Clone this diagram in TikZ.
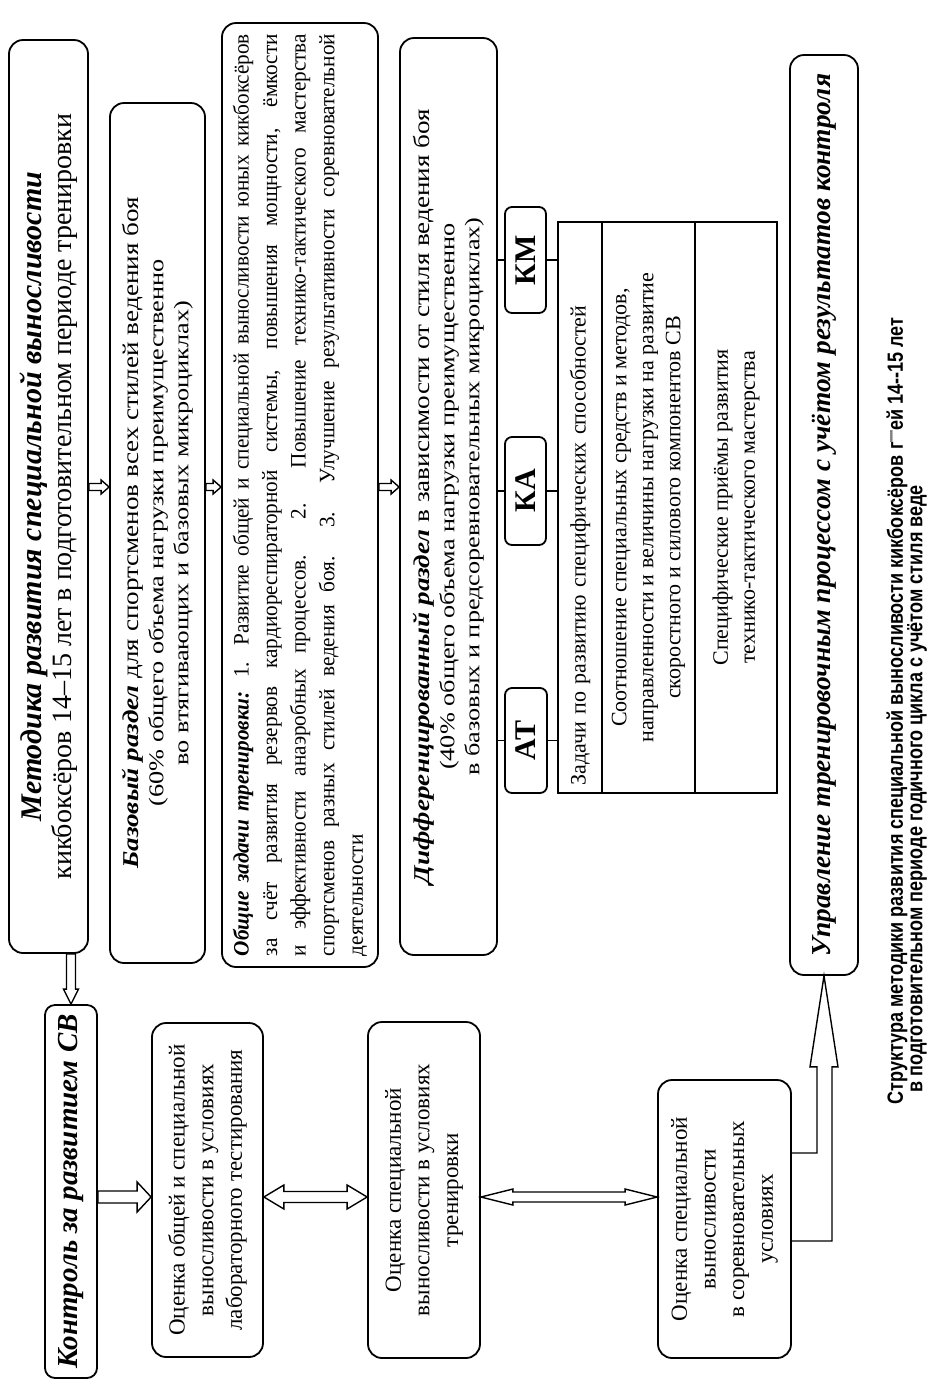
\documentclass[tikz,border=0pt]{standalone}
\usepackage{fontspec}
\setmainfont{Liberation Serif}
\newfontfamily\narrowserif[FakeStretch=0.965]{Liberation Serif}
\newfontfamily\wideserif[FakeStretch=1.2]{Liberation Serif}
\newfontfamily\widerserif[FakeStretch=1.25]{Liberation Serif}
\newfontfamily\capfont[FakeStretch=0.82]{Liberation Sans}
\usetikzlibrary{calc}

\tikzset{
  shaftw/.store in=\shaftw, headw/.store in=\headw, headl/.store in=\headl,
  shaftw=2pt, headw=4pt, headl=5pt,
  hollow/.style={draw, fill=white, line width=0.7pt, line join=miter, to path={
      ($(\tikztostart)!\shaftw!90:(\tikztotarget)$)
      -- ($(\tikztotarget)!\headl!(\tikztostart)!\shaftw!-90:(\tikztostart)$)
      -- ($(\tikztotarget)!\headl!(\tikztostart)!\headw!-90:(\tikztostart)$)
      -- (\tikztotarget)
      -- ($(\tikztotarget)!\headl!(\tikztostart)!\headw!90:(\tikztostart)$)
      -- ($(\tikztotarget)!\headl!(\tikztostart)!\shaftw!90:(\tikztostart)$)
      -- ($(\tikztostart)!\shaftw!-90:(\tikztotarget)$) -- cycle}},
  hollowboth/.style={draw, fill=white, line width=0.7pt, line join=miter, to path={
      (\tikztostart)
      -- ($(\tikztostart)!\headl!(\tikztotarget)!\headw!90:(\tikztotarget)$)
      -- ($(\tikztostart)!\headl!(\tikztotarget)!\shaftw!90:(\tikztotarget)$)
      -- ($(\tikztotarget)!\headl!(\tikztostart)!\shaftw!-90:(\tikztostart)$)
      -- ($(\tikztotarget)!\headl!(\tikztostart)!\headw!-90:(\tikztostart)$)
      -- (\tikztotarget)
      -- ($(\tikztotarget)!\headl!(\tikztostart)!\headw!90:(\tikztostart)$)
      -- ($(\tikztotarget)!\headl!(\tikztostart)!\shaftw!90:(\tikztostart)$)
      -- ($(\tikztostart)!\headl!(\tikztotarget)!\shaftw!-90:(\tikztotarget)$)
      -- ($(\tikztostart)!\headl!(\tikztotarget)!\headw!-90:(\tikztotarget)$) -- cycle}},
}

\begin{document}
\begin{tikzpicture}[x=0.5pt, y=-0.5pt,
    box/.style={draw, rounded corners=7pt, line width=0.9pt, rotate=90, align=center, inner sep=2pt},
    tag/.style={draw, rounded corners=3.5pt, line width=0.9pt, rotate=90, inner sep=0pt, font=\fontsize{15}{18}\selectfont\bfseries},
    cell/.style={draw, line width=1.1pt, rotate=90, inner sep=3pt, font=\fontsize{11}{13.5}\selectfont},
    body/.style={font=\fontsize{11.5}{14.3}\selectfont},
    part/.style={font=\widerserif\fontsize{10.5}{12.5}\selectfont},
]
\useasboundingbox[fill=white] (0,0) rectangle (930,1394);

% Методика и её разделы
\node[box, minimum width=456.5pt, minimum height=39.5pt, font=\fontsize{14}{15}\selectfont] (metod) at (48.5,496.5)
  {{\fontsize{15}{15}\selectfont\bfseries\itshape Методика развития специальной выносливости}\\
   кикбоксёров 14--15 лет в подготовительном периоде тренировки};
\node[box, part, minimum width=430pt, minimum height=47.5pt] (bazov) at (157.5,533)
  {{\wideserif\fontsize{11.3}{13}\selectfont\textbf{\textit{Базовый раздел}} для спортсменов всех стилей ведения боя}\\
   (60\% общего объема нагрузки преимущественно\\
   во втягивающих и базовых микроциклах)};
\node[box, minimum width=472pt, minimum height=78pt, text width=461pt, align=justify,
      font=\narrowserif\fontsize{11}{14.3}\selectfont] (zadachi) at (300,495)
  {\textbf{\textit{Общие задачи тренировки:}} 1. Развитие общей и специальной выносливости юных кикбоксёров\linebreak
   за счёт развития резервов кардиореспираторной системы, повышения мощности, ёмкости\linebreak
   и эффективности анаэробных процессов. 2. Повышение технико-тактического мастерства\linebreak
   спортсменов разных стилей ведения боя. 3. Улучшение результативности соревновательной\linebreak
   деятельности};
\node[box, part, minimum width=458.5pt, minimum height=48.5pt] (differ) at (448.5,496.5)
  {{\wideserif\fontsize{11.3}{13}\selectfont\textbf{\textit{Дифференцированный раздел}} в зависимости от стиля ведения боя}\\
   (40\% общего объема нагрузки преимущественно\\
   в базовых и предсоревновательных микроциклах)};

% стили ведения боя
\node[tag, minimum width=52.5pt, minimum height=21pt] (tagat) at (526,740.5) {АТ};
\node[tag, minimum width=54pt, minimum height=20.5pt] (tagka) at (525.5,491) {КА};
\node[tag, minimum width=53pt, minimum height=20.5pt] (tagkm) at (525.5,260) {КМ};

% таблица
\node[cell, minimum width=285.5pt, minimum height=22pt, text width=278pt, align=left] (tab1) at (580,507.5)
  {Задачи по развитию специфических способностей};
\node[cell, minimum width=285.5pt, minimum height=46.5pt, align=center] (tab2) at (648.5,507.5)
  {Соотношение специальных средств и методов,\\
   направленности и величины нагрузки на развитие\\
   скоростного и силового компонентов СВ};
\node[cell, minimum width=285.5pt, minimum height=41pt, align=center] (tab3) at (736,507.5)
  {Специфические приёмы развития\\ технико-тактического мастерства};

\draw[line width=0.9pt] (differ.south |- tagat) -- (tagat);
\draw[line width=0.9pt] (differ.south |- tagka) -- (tagka);
\draw[line width=0.9pt] (differ.south |- tagkm) -- (tagkm);
\draw[line width=0.9pt] (tagat) -- (tagat -| tab1.north);
\draw[line width=0.9pt] (tagka) -- (tagka -| tab1.north);
\draw[line width=0.9pt] (tagkm) -- (tagkm -| tab1.north);

% управление
\node[box, minimum width=460pt, minimum height=34pt, font=\fontsize{13.7}{16}\selectfont\bfseries\itshape] (uprav) at (824,515)
  {Управление тренировочным процессом с учётом результатов контроля};

% контроль
\node[box, rounded corners=5pt, minimum width=186.5pt, minimum height=26pt, font=\fontsize{14.5}{16}\selectfont\bfseries\itshape] (kontrol) at (71,1191.5)
  {Контроль за развитием СВ};
\node[box, body, minimum width=167pt, minimum height=55.5pt] (labtest) at (207.5,1190)
  {Оценка общей и специальной\\ выносливости в условиях\\ лабораторного тестирования};
\node[box, body, minimum width=168pt, minimum height=56pt] (trentest) at (424,1190)
  {Оценка специальной\\ выносливости в условиях\\ тренировки};
\node[box, body, minimum width=139pt, minimum height=66.5pt] (sorevtest) at (724.5,1219)
  {Оценка специальной\\ выносливости\\ в соревновательных\\ условиях};

% стрелки
\coordinate (toprow) at (0,487);
\coordinate (lowrow) at (0,1197);
\draw[hollow, shaftw=1.75pt, headw=3.5pt, headl=4pt] (metod.south |- toprow) to (bazov.north |- toprow);
\draw[hollow, shaftw=1.75pt, headw=3.5pt, headl=4pt] (bazov.south |- toprow) to (zadachi.north |- toprow);
\draw[hollow, shaftw=1.75pt, headw=3.5pt, headl=4pt] (zadachi.south |- toprow) to (differ.north |- toprow);
\draw[hollow, shaftw=2.25pt, headw=3.75pt, headl=7.5pt] (metod.west -| kontrol.east) to (kontrol.east);
\draw[hollow, shaftw=3pt, headw=7.5pt, headl=7pt] (kontrol.south |- lowrow) to (labtest.north |- lowrow);
\draw[hollowboth, shaftw=2.75pt, headw=6pt, headl=10pt] (labtest.south |- lowrow) to (trentest.north |- lowrow);
\draw[hollowboth, shaftw=2.5pt, headw=4pt, headl=16pt] (trentest.south |- lowrow) to (sorevtest.north |- lowrow);
\draw[line width=0.7pt, line join=miter] ($(sorevtest.south)+(0,22)$) -| ($(uprav.west)+(8,91)$) -- ++(6,0)
  -- (uprav.west) -- ++(-14,91) -- ++(7,0) |- ($(sorevtest.south)+(0,-66)$);

% подпись
\node[rotate=90, inner sep=0pt, font=\capfont\bfseries\fontsize{11}{13}\selectfont] (cap1) at (897,711)
  {Структура методики развития специальной выносливости кикбоксёров г\raisebox{.5ex}{\tiny''''''}ей 14--15 лет};
\node[rotate=90, anchor=west, inner sep=0pt, font=\capfont\bfseries\fontsize{11}{13}\selectfont] (cap2) at (917,1093)
  {в подготовительном периоде годичного цикла с учётом стиля веде};
\end{tikzpicture}
\end{document}
